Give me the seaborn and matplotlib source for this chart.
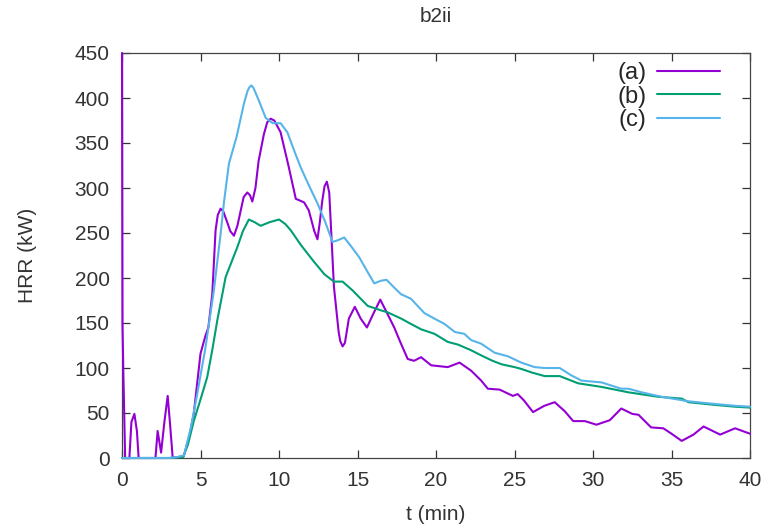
import matplotlib
matplotlib.use("Agg")
import matplotlib.pyplot as plt
import pandas as pd
import seaborn as sns

# Heat release rate histories for test b2ii
t_a = [0, 0.03, 0.08, 0.2, 0.47, 0.6, 0.79, 0.95, 1.06, 2.13, 2.27, 2.49, 2.7, 2.91, 3.05,
       3.23, 3.93, 4.3, 4.57, 5.0, 5.32, 5.5, 5.75, 5.96, 6.1, 6.28, 6.45, 6.7, 6.9, 7.13,
       7.35, 7.5, 7.75, 7.98, 8.15, 8.3, 8.5, 8.7, 9.04, 9.25, 9.47, 9.7, 10.1, 10.6, 11.07,
       11.6, 11.9, 12.25, 12.45, 12.6, 12.75, 12.9, 13.05, 13.2, 13.3, 13.5, 13.8, 13.9,
       14.05, 14.2, 14.45, 14.83, 15.2, 15.6, 16.0, 16.45, 17.34, 17.77, 18.2, 18.6, 19.05,
       19.69, 20.75, 21.5, 22.24, 22.88, 23.3, 24.05, 24.9, 25.2, 25.6, 26.18, 26.9, 27.56,
       28.2, 28.74, 29.48, 30.22, 31.07, 31.8, 32.5, 32.9, 33.7, 34.48, 35.0, 35.65, 36.4,
       37.04, 38.1, 39.05, 40]
hrr_a = [450, 150, 100, 0, 0, 40, 49, 30, 0, 0, 30, 6, 40, 69, 40,
         0, 2, 25, 49, 116, 136, 145, 182, 253, 270, 277, 274, 262, 252, 247,
         258, 270, 290, 295, 292, 285, 300, 330, 360, 373, 377, 375, 362, 325, 288,
         284, 275, 252, 243, 262, 285, 302, 307, 295, 260, 190, 140, 130,
         124, 128, 155, 168, 155, 145, 160, 176, 145, 127, 110, 108, 112,
         103, 101, 106, 97, 86, 77, 76, 69, 71, 64, 51, 58, 62,
         52, 41, 41, 37, 42, 55, 49, 48, 34, 33, 27, 19, 26,
         35, 26, 33, 27]

t_b = [0, 1, 2, 3, 3.9, 4.2, 4.57, 5.0, 5.43, 5.75, 6.07, 6.6, 7.34, 7.7, 8.08, 8.45,
       8.83, 9.4, 10.0, 10.4, 10.75, 11.38, 12.23, 12.9, 13.5, 14.05, 14.7, 15.65, 16.5,
       16.9, 17.77, 18.4, 19.05, 19.9, 20.75, 21.4, 22.2, 22.88, 23.6, 24.2, 25.0, 25.43,
       26.1, 26.92, 27.88, 29.05, 30.54, 32.25, 34.16, 35.65, 36.08, 37.78, 39.05, 40]
hrr_b = [0, 0, 0, 0, 1, 15, 41, 65, 90, 120, 153, 201, 234, 252, 265, 262,
         258, 262, 265, 260, 253, 237, 218, 204, 196, 196, 186, 169, 164,
         162, 155, 149, 143, 138, 129, 126, 120, 114, 108, 104, 101, 99,
         95, 91, 91, 83, 79, 73, 68, 66, 62, 59, 57, 56]

t_c = [0, 1, 2, 3, 3.5, 3.95, 4.4, 4.79, 5.32, 5.85, 6.28, 6.5, 6.81, 7.3, 7.77, 8.0,
       8.12, 8.24, 8.38, 8.5, 8.72, 9.15, 9.6, 10.1, 10.53, 11.0, 11.38, 11.9, 12.45,
       12.95, 13.41, 13.75, 14.15, 14.6, 15.11, 15.6, 16.07, 16.5, 16.85, 17.3, 17.77,
       18.4, 19.26, 20.1, 20.54, 21.2, 21.8, 22.24, 22.88, 23.73, 24.58, 25.43, 26.28,
       26.92, 27.88, 28.6, 29.27, 30.54, 31.8, 32.25, 33.1, 34.37, 36.08, 37.78, 39.05, 40]
hrr_c = [0, 0, 0, 0, 1, 3, 35, 71, 123, 186, 249, 285, 327, 357, 394, 408,
         412, 414, 411, 406, 397, 378, 372, 372, 362, 340, 323, 303, 283,
         262, 240, 242, 245, 235, 223, 208, 194, 197, 198, 190, 182,
         177, 161, 153, 149, 140, 138, 131, 127, 117, 113, 106, 101,
         100, 100, 92, 86, 84, 77, 77, 73, 68, 63, 60, 58, 57]

run_labels = ["(a)", "(b)", "(c)"]
run_colors = ["#9400D3", "#009E73", "#56B4E9"]
x_ticks = [0, 5, 10, 15, 20, 25, 30, 35, 40]
y_ticks = [0, 50, 100, 150, 200, 250, 300, 350, 400, 450]

df = pd.concat([
    pd.DataFrame({"t": t, "hrr": v, "run": lab})
    for lab, t, v in zip(run_labels, [t_a, t_b, t_c], [hrr_a, hrr_b, hrr_c])
], ignore_index=True)

sns.set_style("ticks")
plt.rcParams["font.family"] = ["Liberation Sans", "DejaVu Sans"]

fig = plt.figure(figsize=(7.72, 5.29), dpi=100)
ax = fig.add_axes([122 / 772, 1 - 458 / 529, 628 / 772, 405 / 529])

sns.lineplot(data=df, x="t", y="hrr", hue="run", hue_order=run_labels,
             palette=dict(zip(run_labels, run_colors)), sort=False,
             estimator=None, linewidth=1.5, ax=ax)
for ln in ax.get_lines():
    ln.set_zorder(3)
    ln.set_clip_on(False)
    ln.set_solid_joinstyle("round")

ax.set_xlim(0, 40)
ax.set_ylim(0, 450)
ax.set_xticks(x_ticks)
ax.set_yticks(y_ticks)
ax.tick_params(direction="in", top=True, right=True, length=6, width=0.9,
               labelsize=15, colors="#333333", pad=9)
for s in ax.spines.values():
    s.set_color("#444444")
    s.set_linewidth(0.9)

ax.set_title("b2ii", fontsize=15, color="#333333", pad=22)
ax.set_xlabel("t (min)", fontsize=15, color="#333333")
ax.set_ylabel("HRR (kW)", fontsize=15, color="#333333")
ax.xaxis.set_label_coords(0.5, -0.115)
ax.yaxis.set_label_coords(-0.135, 0.5)

handles, labels = ax.get_legend_handles_labels()
ax.legend(handles, labels, loc="upper right", bbox_to_anchor=(0.967, 1.0),
          markerfirst=False, frameon=False, fontsize=17, handlelength=2.65,
          handletextpad=0.45, labelspacing=0.05, borderaxespad=0)

fig.savefig("out.png", dpi=100)
